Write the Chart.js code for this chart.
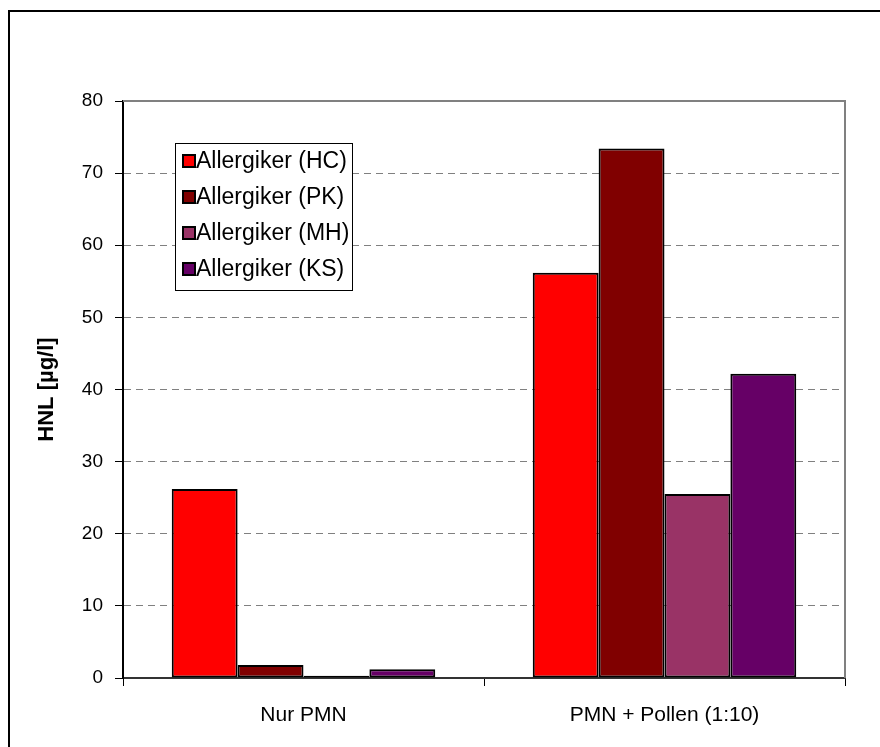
<!DOCTYPE html>
<html>
<head>
<meta charset="utf-8">
<script src="https://cdn.jsdelivr.net/npm/chart.js@4.4.1/dist/chart.umd.min.js"></script>
<style>
	body { margin: 0; background: #fff; }
	#frame { position: absolute; left: 8px; top: 10px; width: 900px; height: 800px; border: 2px solid #000; box-sizing: border-box; }
	#wrap { position: absolute; left: 0; top: 0; width: 880px; height: 747px; }
</style>
</head>
<body>
<div id="frame"></div>
<div id="wrap"><canvas id="hnl-chart" width="880" height="747"></canvas></div>
<script>
var categories = ['Nur PMN', 'PMN + Pollen (1:10)'];
var seriesNames = ['Allergiker (HC)', 'Allergiker (PK)', 'Allergiker (MH)', 'Allergiker (KS)'];
var valuesHC = [26.2, 56.2];
var valuesPK = [1.8, 73.4];
var valuesMH = [0.3, 25.5];
var valuesKS = [1.2, 42.2];
var yTicks = [0, 10, 20, 30, 40, 50, 60, 70, 80];

var red = '#ff0000';
var darkRed = '#800000';
var plum = '#993366';
var purple = '#660066';

var font = 'Arial, "Liberation Sans", sans-serif';

// plot frame (gray top/right) and legend box inside the plot area
var framePlugin = {
	id: 'frameAndLegend',
	afterDraw: function(chart) {
		var ctx = chart.ctx, a = chart.chartArea;
		ctx.save();
		ctx.strokeStyle = '#808080';
		ctx.lineWidth = 2;
		ctx.beginPath();
		ctx.moveTo(a.left, a.top);
		ctx.lineTo(a.right, a.top);
		ctx.lineTo(a.right, a.bottom);
		ctx.stroke();

		var lx = a.left + 52, ly = a.top + 42, lw = 177, lh = 147;
		ctx.fillStyle = '#fff';
		ctx.fillRect(lx, ly, lw, lh);
		ctx.strokeStyle = '#000';
		ctx.lineWidth = 1;
		ctx.strokeRect(lx + 0.5, ly + 0.5, lw, lh);

		ctx.font = '23px ' + font;
		ctx.textBaseline = 'middle';
		chart.data.datasets.forEach(function(ds, i) {
			var cy = ly + 18 + i * 36;
			ctx.fillStyle = ds.backgroundColor;
			ctx.fillRect(lx + 8, cy - 6, 12, 12);
			ctx.strokeStyle = '#000';
			ctx.lineWidth = 2;
			ctx.strokeRect(lx + 8, cy - 6, 12, 12);
			ctx.fillStyle = '#000';
			ctx.fillText(ds.label, lx + 21, cy + 1);
		});
		ctx.restore();
	}
};

var makeSet = function(label, data, color) {
	return {
		label: label,
		data: data,
		backgroundColor: color,
		borderColor: '#000',
		borderWidth: 2,
		borderSkipped: false
	};
};

var ctx = document.getElementById('hnl-chart').getContext('2d');
var chart = new Chart(ctx, {
	type: 'bar',
	data: {
		labels: categories,
		datasets: [
			makeSet(seriesNames[0], valuesHC, red),
			makeSet(seriesNames[1], valuesPK, darkRed),
			makeSet(seriesNames[2], valuesMH, plum),
			makeSet(seriesNames[3], valuesKS, purple)
		]
	},
	options: {
		responsive: false,
		animation: false,
		layout: { padding: { left: 30, top: 101, right: 35, bottom: 0 } },
		datasets: { bar: { categoryPercentage: 0.73, barPercentage: 1 } },
		plugins: { legend: { display: false }, tooltip: { enabled: false } },
		scales: {
			x: {
				afterFit: function(scale) { scale.height = 747 - 678; },
				grid: { offset: true, drawOnChartArea: false, tickLength: 8, tickColor: '#000', tickWidth: 1 },
				border: { color: '#333', width: 2 },
				ticks: { color: '#000', padding: 17, font: { family: font, size: 21 } }
			},
			y: {
				min: 0,
				max: 80,
				afterFit: function(scale) { scale.width = 123 - 30; },
				afterBuildTicks: function(scale) {
					scale.ticks = yTicks.map(function(v) { return { value: v }; });
				},
				grid: {
					color: function(c) {
						return (c.tick && (c.tick.value === 0 || c.tick.value === 80)) ? 'rgba(0,0,0,0)' : '#808080';
					},
					tickColor: '#000',
					tickLength: 8,
					tickWidth: 1
				},
				border: { color: '#000', width: 2, dash: [7, 5] },
				ticks: { color: '#000', padding: 12, font: { family: font, size: 19 } },
				title: {
					display: true,
					text: 'HNL [µg/l]',
					color: '#000',
					padding: { top: 4, bottom: 0 },
					font: { family: font, size: 22, weight: 'bold' }
				}
			}
		}
	},
	plugins: [framePlugin]
});
</script>
</body>
</html>
